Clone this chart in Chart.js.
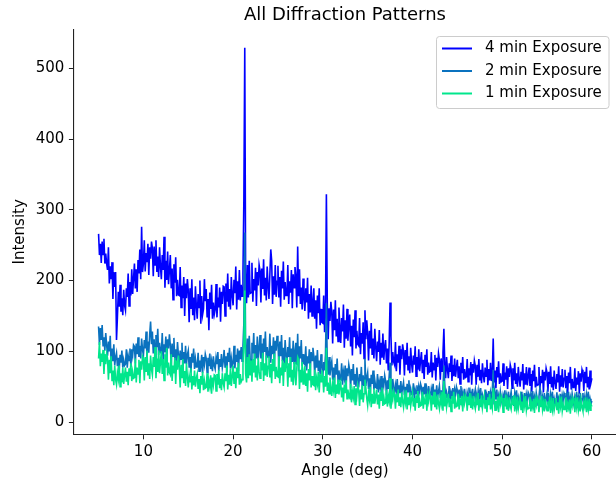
<!DOCTYPE html>
<html>
<head>
<meta charset="utf-8">
<script src="https://cdn.jsdelivr.net/npm/chart.js@4.4.1/dist/chart.umd.min.js"></script>
<style>
  html, body { margin: 0; padding: 0; background: #fff; }
  canvas { display: block; }
</style>
</head>
<body>
<canvas id="c" width="616" height="480"></canvas>
<script>
// ---- data, one row per degree, 0.1 deg apart ----
const seriesLabels = ['4 min Exposure', '2 min Exposure', '1 min Exposure'];
const angleStart = 5;
const angleStep = 0.1;

const exp4 = [
266,236,252,225,255,237,259,224,238,224,
215,247,196,220,202,226,174,212,191,212,
116,148,184,163,194,156,175,151,187,165,
158,189,177,210,164,198,179,216,181,203,
224,189,216,184,229,210,244,202,276,212,
224,257,213,239,226,252,208,247,231,255,
246,206,248,222,257,212,234,205,247,220,
202,236,215,262,190,228,201,241,195,215,
236,189,217,173,223,197,233,178,201,180,
179,219,162,193,175,205,150,196,175,202,
186,141,189,160,202,151,176,144,192,164,
146,181,162,200,139,178,152,160,202,171,
188,149,174,130,183,160,194,146,169,152,
159,195,148,176,162,190,142,184,167,192,
191,150,196,170,210,163,188,159,205,179,
165,201,182,220,159,199,173,215,172,194,
178,210,316,529,192,168,222,176,228,182,
183,225,170,202,186,218,164,212,193,222,
214,169,217,188,230,179,204,172,220,192,
174,209,244,228,167,206,180,222,177,199,
221,176,205,163,214,189,227,173,198,179,
180,222,167,199,183,215,161,209,190,219,
205,162,248,178,216,167,190,159,203,175,
157,189,169,204,146,181,155,193,150,169,
189,146,172,132,179,154,189,137,160,141,
140,179,127,157,322,169,117,161,143,170,
156,111,159,130,172,121,146,114,162,134,
112,147,128,166,105,144,118,160,115,137,
152,107,136,94,145,120,158,104,129,110,
108,147,96,126,111,141,90,158,117,144,
126,87,129,104,140,95,118,90,132,106,
86,114,99,130,81,112,91,125,88,107,
116,83,104,73,111,169,121,80,99,85,
81,113,72,96,84,108,67,103,89,110,
100,66,102,81,112,74,93,69,105,83,
70,94,81,107,65,92,74,103,72,87,
99,69,88,61,95,78,103,67,84,71,
72,99,63,84,74,95,59,91,78,97,
88,60,90,72,98,132,82,62,92,74,
62,83,71,94,58,81,65,90,64,77,
88,62,79,54,84,69,92,60,75,63,
64,89,57,76,66,85,53,82,70,87,
80,53,81,64,89,59,74,55,83,66,
56,77,65,88,52,75,59,84,58,71,
118,56,73,48,78,63,86,54,69,57,
58,83,51,70,60,79,47,76,64,81,
75,48,76,59,84,54,69,50,78,61,
50,71,59,82,46,69,53,78,52,65,
77,51,68,43,73,58,81,49,64,52,
53,78,46,65,55,74,42,71,59,76,
70,43,71,54,79,49,64,45,73,56,
47,68,56,79,43,66,50,75,49,62,
74,48,65,40,70,55,78,46,61,49,
51,76,44,63,53,72,40,69,57,74,
69,44,71,55,78,49,64,46,73,56,
62];

const exp2 = [
135,109,133,116,137,108,120,101,126,109,
94,114,100,122,82,104,86,110,80,92,
98,79,91,73,95,84,101,77,88,80,
82,103,77,94,87,104,78,103,94,109,
107,83,111,96,120,92,108,90,118,102,
94,116,104,128,90,114,98,124,142,110,
128,97,117,88,123,106,132,95,112,99,
97,126,88,110,99,121,84,117,104,124,
109,81,111,93,119,87,103,83,113,95,
80,101,89,112,76,99,83,108,82,95,
101,77,92,70,97,84,104,75,89,78,
78,98,72,87,79,95,69,92,82,96,
90,70,91,79,97,75,86,72,93,80,
75,91,82,99,72,89,78,96,77,86,
102,78,93,71,98,85,105,76,90,79,
83,108,76,95,85,104,72,101,89,106,
86,108,140,268,98,82,118,88,122,90,
85,112,97,126,80,109,90,121,88,104,
123,90,111,80,118,99,128,87,106,92,
93,125,84,108,96,120,79,115,101,122,
112,79,114,93,123,86,105,82,116,95,
81,106,92,120,76,104,85,115,83,99,
112,81,125,72,107,90,116,79,96,83,
81,107,73,93,83,103,69,99,87,105,
93,66,94,77,102,72,87,68,96,79,
64,85,73,96,168,83,67,92,66,79,
86,60,77,52,82,67,90,58,73,61,
60,83,53,71,62,80,49,76,65,81,
73,48,75,59,82,53,68,50,77,60,
49,68,58,78,46,66,52,90,51,63,
70,47,62,41,67,54,73,46,59,49,
48,68,42,57,49,65,39,62,52,66,
58,38,59,47,65,84,54,40,61,48,
39,53,45,61,36,52,41,58,40,49,
56,38,50,33,54,43,59,37,47,39,
39,55,34,46,40,52,32,50,43,54,
49,32,50,39,55,36,45,33,51,41,
34,47,40,54,31,46,36,52,35,43,
51,34,45,29,48,80,53,33,42,35,
35,51,30,42,36,48,28,46,39,50,
45,28,46,35,51,32,41,29,47,37,
30,42,36,49,28,41,32,47,31,39,
46,30,40,26,44,35,48,29,38,31,
32,46,27,38,33,44,25,42,35,45,
74,25,42,32,46,28,37,26,43,33,
26,38,32,45,24,37,28,43,27,35,
43,27,37,23,41,32,45,26,35,28,
29,43,24,35,30,41,22,39,32,42,
39,23,40,30,44,26,35,24,41,31,
24,36,48,43,22,35,26,41,25,33,
41,25,35,21,39,30,43,24,33,26,
28,42,23,34,29,40,21,38,31,41,
38,22,39,29,43,25,34,23,40,30,
24,36,30,43,22,35,26,41,25,33,
41,25,35,21,39,30,43,24,33,26,
30];

const exp1 = [
90,113,79,97,85,102,68,96,82,97,
90,60,88,69,93,59,73,52,80,60,
53,70,61,80,50,69,56,77,54,66,
77,57,71,52,76,65,83,58,71,62,
63,90,56,77,68,88,55,86,74,93,
90,59,92,72,101,66,83,61,94,75,
67,92,78,106,62,90,71,101,69,85,
100,68,89,59,96,77,105,66,84,70,
67,96,58,80,69,91,54,87,74,94,
79,49,81,62,89,55,72,51,83,64,
49,66,57,76,46,65,52,73,50,62,
68,47,61,41,65,53,71,45,58,48,
49,69,43,58,50,66,40,63,53,67,
66,44,68,53,74,48,61,45,69,55,
49,69,58,80,46,67,53,76,51,64,
80,55,71,48,77,62,84,53,68,57,
60,82,110,186,68,56,92,62,96,66,
87,57,89,70,97,63,80,59,91,72,
62,85,73,98,58,83,66,94,64,79,
93,63,82,55,89,72,97,61,78,65,
64,93,55,77,66,88,51,84,71,91,
81,50,83,63,92,57,74,52,85,66,
52,76,92,89,47,74,56,85,54,69,
79,51,69,43,75,59,83,49,65,53,
52,74,45,62,54,71,42,68,57,73,
64,42,65,50,105,44,56,40,63,49,
37,54,45,63,34,53,40,60,39,50,
56,35,49,29,53,41,59,33,46,36,
34,54,28,43,35,51,25,48,38,52,
45,23,46,32,52,28,40,60,48,34,
24,41,32,50,21,40,27,47,26,37,
46,25,39,19,43,31,49,23,36,26,
27,46,22,36,29,62,19,40,32,44,
39,19,40,28,46,24,35,21,42,29,
21,37,28,45,18,35,24,42,23,32,
41,22,34,16,38,27,44,20,31,23,
24,43,19,33,26,40,16,37,29,41,
36,16,37,25,43,21,32,18,39,26,
19,35,26,43,16,58,22,40,21,30,
40,21,33,15,37,26,43,19,30,22,
23,40,18,31,24,37,15,35,27,38,
35,16,36,24,41,20,31,18,37,25,
19,33,25,41,16,32,21,38,20,29,
37,19,31,14,35,24,40,18,28,20,
48,39,17,30,23,36,14,34,26,37,
33,14,34,22,39,18,29,16,35,23,
18,31,24,38,15,30,20,36,19,27,
35,18,29,13,32,23,37,17,26,19,
20,36,15,27,21,33,13,31,24,35,
31,14,32,21,37,18,27,15,33,23,
16,29,22,36,13,28,18,34,17,25,
34,17,28,12,31,22,36,16,25,18,
19,35,14,26,20,32,12,30,23,34,
30,14,31,21,35,17,26,15,32,22,
16,28,22,35,14,27,18,33,17,25,
22];

const angles = exp4.map((_, i) => +(angleStart + i * angleStep).toFixed(1));
const xTickValues = [10, 20, 30, 40, 50, 60];
const yTickValues = [0, 100, 200, 300, 400, 500];
const seriesColors = ['#0000ff', '#0a72bf', '#00e68c'];

const FONT = 'DejaVu Sans';
const LABEL_SIZE = 15;
const toPoints = arr => arr.map((v, i) => ({ x: angles[i], y: v }));

const legendPlugin = {
  id: 'boxLegend',
  afterDraw(chart) {
    const ctx = chart.ctx;
    const x = 436.5, y = 36.5, w = 172.5, h = 72, r = 3;
    ctx.save();
    ctx.beginPath();
    ctx.moveTo(x + r, y);
    ctx.lineTo(x + w - r, y);
    ctx.quadraticCurveTo(x + w, y, x + w, y + r);
    ctx.lineTo(x + w, y + h - r);
    ctx.quadraticCurveTo(x + w, y + h, x + w - r, y + h);
    ctx.lineTo(x + r, y + h);
    ctx.quadraticCurveTo(x, y + h, x, y + h - r);
    ctx.lineTo(x, y + r);
    ctx.quadraticCurveTo(x, y, x + r, y);
    ctx.closePath();
    ctx.fillStyle = 'rgba(255,255,255,0.8)';
    ctx.fill();
    ctx.strokeStyle = '#cccccc';
    ctx.lineWidth = 1;
    ctx.stroke();
    chart.data.datasets.forEach((ds, i) => {
      const ry = 48.5 + i * 22.5;
      ctx.beginPath();
      ctx.moveTo(442, ry);
      ctx.lineTo(472, ry);
      ctx.strokeStyle = ds.borderColor;
      ctx.lineWidth = 2;
      ctx.stroke();
      ctx.fillStyle = '#000';
      ctx.font = LABEL_SIZE + 'px "' + FONT + '"';
      ctx.textBaseline = 'middle';
      ctx.textAlign = 'left';
      ctx.fillText(ds.label, 485, ry);
    });
    ctx.restore();
  }
};

new Chart(document.getElementById('c'), {
  type: 'line',
  data: {
    datasets: [
      { label: seriesLabels[0], data: toPoints(exp4), borderColor: seriesColors[0], order: 2 },
      { label: seriesLabels[1], data: toPoints(exp2), borderColor: seriesColors[1], order: 1 },
      { label: seriesLabels[2], data: toPoints(exp1), borderColor: seriesColors[2], order: 0 }
    ]
  },
  options: {
    responsive: false,
    animation: false,
    devicePixelRatio: 1,
    layout: { padding: 0 },
    elements: {
      point: { radius: 0, hoverRadius: 0 },
      line: { borderWidth: 1.6, tension: 0, fill: false }
    },
    plugins: {
      legend: { display: false },
      tooltip: { enabled: false },
      title: {
        display: true,
        fullSize: false,
        text: 'All Diffraction Patterns',
        color: '#000',
        font: { family: FONT, size: 18, weight: 'normal' },
        padding: { top: 4.5, bottom: 3.2 }
      }
    },
    scales: {
      x: {
        type: 'linear',
        min: 2.25,
        max: 62.69,
        afterBuildTicks: s => { s.ticks = xTickValues.map(v => ({ value: v })); },
        afterFit: s => { s.height = 45.7; },
        ticks: { color: '#000', font: { family: FONT, size: LABEL_SIZE }, padding: 3.5, maxRotation: 0 },
        grid: { drawOnChartArea: false, drawTicks: true, tickLength: 5, tickColor: '#222', tickWidth: 1 },
        border: { display: true, color: '#222', width: 1.1 },
        title: { display: true, text: 'Angle (deg)', color: '#000', font: { family: FONT, size: LABEL_SIZE }, padding: { top: 0, bottom: 0 } }
      },
      y: {
        type: 'linear',
        min: -17.2,
        max: 555,
        afterBuildTicks: s => { s.ticks = yTickValues.map(v => ({ value: v })); },
        afterFit: s => { s.width = 73.9; },
        ticks: { color: '#000', font: { family: FONT, size: LABEL_SIZE }, padding: 4.5 },
        grid: { drawOnChartArea: false, drawTicks: true, tickLength: 5, tickColor: '#222', tickWidth: 1 },
        border: { display: true, color: '#222', width: 1.1 },
        title: { display: true, text: 'Intensity', color: '#000', font: { family: FONT, size: LABEL_SIZE }, padding: { top: 11.2, bottom: 0 } }
      }
    }
  },
  plugins: [legendPlugin]
});
</script>
</body>
</html>
